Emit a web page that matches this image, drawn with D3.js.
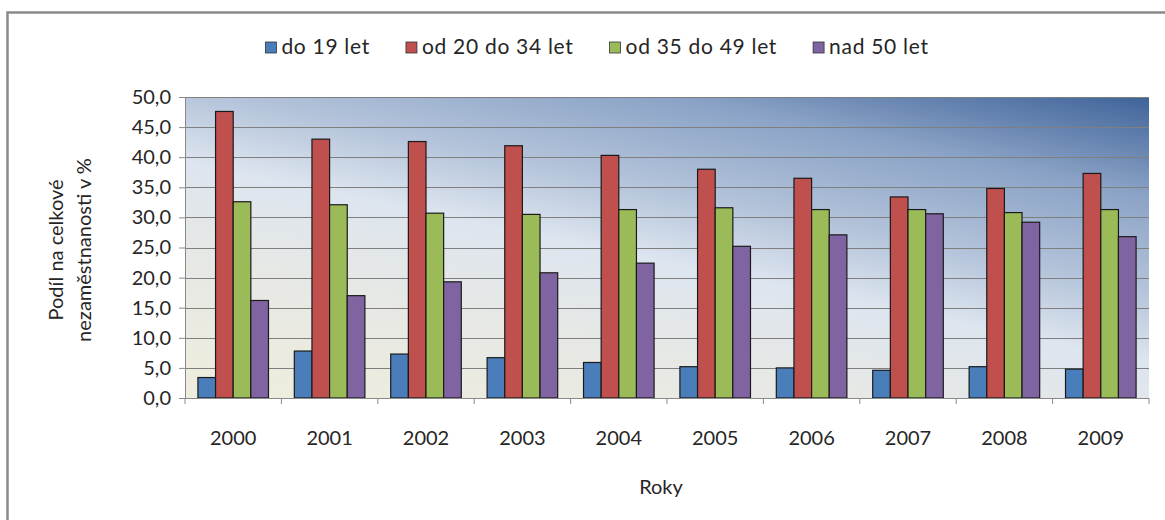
<!DOCTYPE html>
<html>
<head>
<meta charset="utf-8">
<script src="https://cdn.jsdelivr.net/npm/d3@7"></script>
<style>
  html, body { margin: 0; padding: 0; background: #fff; }
  svg { display: block; }
  text { font-family: Lato, "Open Sans", sans-serif; fill: #262626; }
</style>
</head>
<body>
<svg id="chart" width="1165" height="520"></svg>
<script>
const years = ["2000","2001","2002","2003","2004","2005","2006","2007","2008","2009"];
const seriesNames = ["do 19 let", "od 20 do 34 let", "od 35 do 49 let", "nad 50 let"];
const do19 =   [3.4, 7.8, 7.3, 6.7, 5.9, 5.2, 5.0, 4.6, 5.2, 4.8];
const od20 =   [47.6, 43.0, 42.6, 41.9, 40.3, 38.0, 36.5, 33.4, 34.8, 37.3];
const od35 =   [32.6, 32.1, 30.7, 30.5, 31.3, 31.6, 31.3, 31.3, 30.8, 31.3];
const nad50 =  [16.2, 17.0, 19.3, 20.8, 22.4, 25.2, 27.1, 30.6, 29.2, 26.8];
const yTicks = [0, 5, 10, 15, 20, 25, 30, 35, 40, 45, 50];
const colors = ["#4a7ebb", "#c0504d", "#9bbb59", "#8064a2"];
const seriesValues = [do19, od20, od35, nad50];

const svg = d3.select("#chart");
const plot = { left: 185, right: 1149, top: 97, bottom: 398 };

// outer border
svg.append("rect").attr("x", 7.5).attr("y", 12.5).attr("width", 1200).attr("height", 600)
  .attr("fill", "#fff").attr("stroke", "#8a8a8a").attr("stroke-width", 2.5);

const defs = svg.append("defs");
const grad = defs.append("linearGradient").attr("id", "bg")
  .attr("x1", 0).attr("y1", 1).attr("x2", 0.77).attr("y2", -0.154);
[[0, "#efeddc"], [0.3, "#e6e8e6"], [0.47, "#dde5ef"], [0.62, "#b2c2d9"], [0.8, "#8ba3c6"], [1, "#3f6399"]]
  .forEach(([o, c]) => grad.append("stop").attr("offset", o).attr("stop-color", c));

const x0 = d3.scaleBand().domain(years).range([plot.left, plot.right]).paddingInner(0.268).paddingOuter(0.134);
const x1 = d3.scaleBand().domain(d3.range(seriesNames.length)).range([0, x0.bandwidth()]);
const y = d3.scaleLinear().domain([0, 50]).range([plot.bottom, plot.top]);

svg.append("rect").attr("x", plot.left).attr("y", plot.top)
  .attr("width", plot.right - plot.left).attr("height", plot.bottom - plot.top)
  .attr("fill", "url(#bg)");

// gridlines
svg.append("g").selectAll("line").data(yTicks.filter(d => d > 0)).join("line")
  .attr("x1", plot.left).attr("x2", plot.right)
  .attr("y1", d => Math.round(y(d)) + 0.5).attr("y2", d => Math.round(y(d)) + 0.5)
  .attr("stroke", "#7f7f7f").attr("stroke-width", 1);

// bars
const groups = svg.append("g").selectAll("g").data(years).join("g")
  .attr("transform", d => `translate(${x0(d)},0)`);
groups.selectAll("rect").data((d, i) => seriesValues.map((s, k) => ({ k, v: s[i] }))).join("rect")
  .attr("x", d => x1(d.k)).attr("width", x1.bandwidth())
  .attr("y", d => y(d.v)).attr("height", d => y(0) - y(d.v))
  .attr("fill", d => colors[d.k]).attr("stroke", "#1a1a1a").attr("stroke-width", 1.2);

// y axis
const yAxis = d3.axisLeft(y).tickValues(yTicks).tickSize(6).tickPadding(8)
  .tickFormat(d => d3.format(".1f")(d).replace(".", ","));
const gy = svg.append("g").attr("transform", `translate(${plot.left},0)`).call(yAxis);
gy.select(".domain").attr("stroke", "#8a8a8a");
gy.selectAll(".tick line").attr("stroke", "#8a8a8a");
gy.selectAll(".tick text").style("font-size", "20px").style("font-family", "Lato, sans-serif").attr("fill", "#262626");

// x axis
const gx = svg.append("g").attr("transform", `translate(0,${plot.bottom})`);
gx.append("line").attr("x1", plot.left).attr("x2", plot.right).attr("y1", 0.5).attr("y2", 0.5).attr("stroke", "#8a8a8a");
const step = x0.step();
gx.selectAll("line.t").data(d3.range(years.length + 1)).join("line").attr("class", "t")
  .attr("x1", i => plot.left + i * step).attr("x2", i => plot.left + i * step)
  .attr("y1", 0).attr("y2", 6).attr("stroke", "#8a8a8a");
gx.selectAll("text").data(years).join("text")
  .attr("x", d => x0(d) + x0.bandwidth() / 2).attr("y", 47)
  .attr("text-anchor", "middle").style("font-size", "20px").text(d => d);

// axis titles
svg.append("text").attr("x", (plot.left + plot.right) / 2 - 6).attr("y", 494)
  .attr("text-anchor", "middle").style("font-size", "20px").text("Roky");
const yt = svg.append("text").attr("transform", "translate(0,250) rotate(-90)")
  .attr("text-anchor", "middle").style("font-size", "20px");
yt.append("tspan").attr("x", 0).attr("y", 63).text("Podíl na celkové");
yt.append("tspan").attr("x", 0).attr("y", 91).text("nezaměstnanosti v %");

// legend
const leg = svg.append("g");
let cx = 0;
const gap = 36;
seriesNames.forEach((name, k) => {
  const g = leg.append("g").attr("transform", `translate(${cx},0)`);
  g.append("rect").attr("x", 0).attr("y", -12).attr("width", 11).attr("height", 11)
    .attr("fill", colors[k]).attr("stroke", "#333").attr("stroke-width", 0.8);
  const t = g.append("text").attr("x", 16).attr("y", 0).style("font-size", "21px")
    .style("letter-spacing", "0.7px").text(name);
  cx += 16 + t.node().getComputedTextLength() + gap;
});
const legW = cx - gap;
leg.attr("transform", `translate(${597 - legW / 2},54)`);
</script>
</body>
</html>
